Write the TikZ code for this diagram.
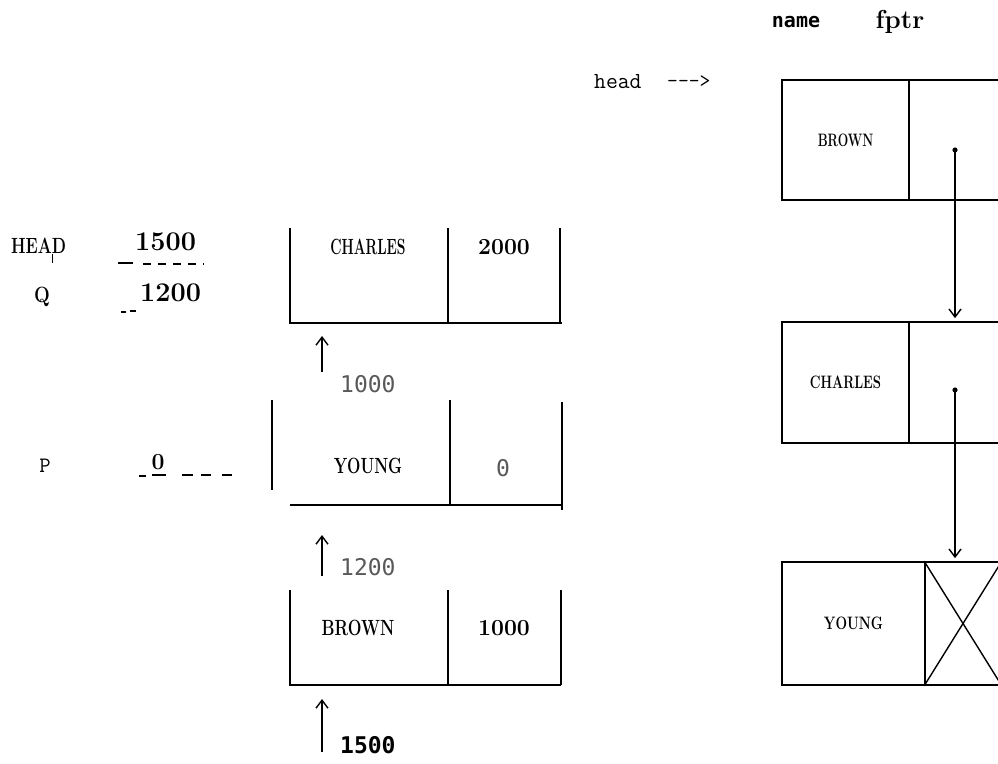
\documentclass[tikz,border=0pt]{standalone}
\usepackage{fontspec}
\newfontfamily\dvm{DejaVu Sans Mono}
\usetikzlibrary{arrows.meta}
\newcommand{\cnd}[2][0.82]{\scalebox{#1}[1]{#2}}
\begin{document}
\begin{tikzpicture}[x=1pt,y=-1pt,
  ser/.style={font=\bfseries\fontsize{22}{22}\selectfont, inner sep=0pt},
  serR/.style={font=\bfseries\fontsize{18}{18}\selectfont, inner sep=0pt},
  num/.style={font=\bfseries\fontsize{23}{23}\selectfont, inner sep=0pt},
  bignum/.style={font=\bfseries\fontsize{27}{27}\selectfont, inner sep=0pt},
  mono/.style={font=\ttfamily\fontsize{22}{22}\selectfont, inner sep=0pt},
  lbl/.style={font=\dvm\fontsize{23}{23}\selectfont, text=black!65, inner sep=0pt},
  bx/.style={line width=1.7pt},
  cell/.style={draw, line width=1.7pt, inner sep=0pt},
  arr/.style={line width=1.4pt, -{Straight Barb[length=8pt,width=12pt,line width=1.4pt]}},
  dsh/.style={line width=1.4pt, dash pattern=on 8pt off 7pt}]
\useasboundingbox (0,0) rectangle (998,763);
\clip (0,0) rectangle (998,763);

% ---------- left: variables ----------
\node[ser, anchor=west] (headL) at (11,246) {\cnd[0.75]{HEAD}};
\draw[line width=0.6pt] (52,254) -- (52,263);
\node[bignum, anchor=west] (v1500) at (135,242) {1500};
\draw[line width=1.4pt] (118,263) -- (133,263);
\draw[dsh] (143,264) -- (204,264);
\node[ser] (q) at (42,297) {\cnd[0.85]{Q}};
\node[bignum, anchor=west] (v1200) at (140,293) {1200};
\draw[line width=1.2pt] (121,312) -- (126,312) (130,311) -- (136,311);
\node[mono] (p) at (45,466) {P};
\node[num] (v0) at (158,462) {0};
\draw[line width=1.4pt] (139,476) -- (146,476) (152,475) -- (166,475)
  (182,475) -- (193,475) (201,475) -- (211,475) (222,475) -- (232,475);

% ---------- left: memory cells ----------
\draw[bx] (290,228) -- (290,323) -- (562,323);
\draw[bx] (448,228) -- (448,323);
\draw[bx] (560,228) -- (560,323);
\node[ser] (c1) at (368,247) {\cnd[0.63]{CHARLES}};
\node[num] (c1p) at (504,247) {2000};
\coordinate (a1s) at (322,372);
\coordinate (a1e) at (322,336);
\draw[arr] (a1s) -- (a1e);
\node[lbl, anchor=west] (l1000) at (340,384) {1000};

\draw[bx] (272,400) -- (272,490);
\draw[bx] (450,400) -- (450,505);
\draw[bx] (562,402) -- (562,510);
\draw[bx] (290,505) -- (562,505);
\node[ser] (c2) at (368,466) {\cnd[0.72]{YOUNG}};
\node[lbl] (c2p) at (503,468) {0};
\coordinate (a2s) at (322,576);
\coordinate (a2e) at (322,535);
\draw[arr] (a2s) -- (a2e);
\node[lbl, anchor=west] (l1200) at (340,567) {1200};

\draw[bx] (290,590) -- (290,685) -- (561,685);
\draw[bx] (448,590) -- (448,685);
\draw[bx] (561,590) -- (561,685);
\node[ser] (c3) at (358,628) {\cnd[0.74]{BROWN}};
\node[num] (c3p) at (504,628) {1000};
\coordinate (a3s) at (322,752);
\coordinate (a3e) at (322,699);
\draw[arr] (a3s) -- (a3e);
\node[font=\dvm\bfseries\fontsize{23}{23}\selectfont, anchor=west, inner sep=0pt] (l1500) at (340,745) {1500};

% ---------- right: linked list ----------
\node[font=\dvm\bfseries\fontsize{20}{20}\selectfont, inner sep=0pt] (hname) at (796,22) {name};
\node[font=\bfseries\fontsize{26}{26}\selectfont, inner sep=0pt] (hfptr) at (900,22) {fptr};
\node[font=\ttfamily\fontsize{23}{23}\selectfont, anchor=west, inner sep=0pt] (hd) at (594,82) {head};
\node[font=\ttfamily\fontsize{21}{21}\selectfont, anchor=west, inner sep=0pt] (hda) at (667,82) {--{}->};

\node[cell, serR, minimum width=127pt, minimum height=120pt] (n1) at (845.5,140) {\cnd[0.69]{BROWN}};
\node[cell, minimum width=92pt, minimum height=120pt] (p1) at (955,140) {};
\node[cell, serR, minimum width=127pt, minimum height=121pt] (n2) at (845.5,382.5) {\cnd[0.73]{CHARLES}};
\node[cell, minimum width=92pt, minimum height=121pt] (p2) at (955,382.5) {};
\node[cell, serR, minimum width=143pt, minimum height=123pt] (n3) at (853.5,623.5) {\cnd[0.76]{YOUNG}};
\node[cell, minimum width=76pt, minimum height=123pt] (p3) at (963,623.5) {};
\draw[line width=1.4pt] (p3.north west) -- (p3.south east) (p3.south west) -- (p3.north east);

\coordinate (d1) at (955,150);
\coordinate (d2) at (955,390);
\fill (d1) circle (2.6pt);
\fill (d2) circle (2.6pt);
\draw[arr, shorten >=3pt] (d1) -- (p2.north);
\draw[arr, shorten >=3pt] (d2) -- (p3.north -| d2);
\end{tikzpicture}
\end{document}
